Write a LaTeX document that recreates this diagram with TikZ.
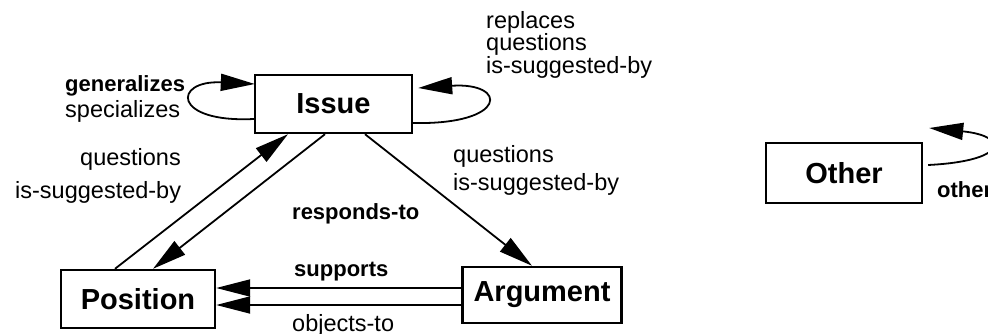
\documentclass[tikz,border=0pt]{standalone}
\usepackage{fontspec}
\setmainfont{Liberation Sans}
\usetikzlibrary{arrows.meta}

\begin{document}
\begin{tikzpicture}[x=1pt, y=-1pt,
    box/.style={draw, line width=2.4pt, minimum width=155pt, minimum height=58pt, inner sep=0pt, font=\fontsize{29}{29}\selectfont\bfseries},
    lbl/.style={anchor=base west, inner sep=0pt, font=\fontsize{23.5}{23.5}\selectfont},
    blbl/.style={anchor=base west, inner sep=0pt, font=\fontsize{22}{22}\selectfont\bfseries},
    rel/.style={line width=1.8pt, -{Triangle[length=34pt, width=17pt]}}]
    \useasboundingbox (0, 0) rectangle (988, 334);

    \node [box, minimum width=157pt] (issue) at (333.5, 104) {Issue};
    \node [box, minimum width=154pt] (position) at (138, 299) {Position};
    \node [box, minimum width=159pt, minimum height=56pt] (argument) at (542, 295) {Argument};
    \node [box, minimum width=156pt, minimum height=60pt] (other) at (844, 173) {Other};

    \draw [rel] ([yshift=-15pt]issue.west) .. controls +(-82, 4) and +(-82, -4) .. ([xshift=1pt, yshift=20pt]issue.west);
    \draw [rel] ([yshift=-19pt]issue.east) .. controls +(95, 2) and +(90, -6) .. ([xshift=5pt, yshift=16pt]issue.east);
    \draw [rel] ([xshift=5pt, yshift=8pt]other.east) .. controls +(80, -4) and +(80, 8) .. ([xshift=6pt, yshift=45pt]other.east);

    \draw [rel] ([xshift=-23pt]position.north) -- ([xshift=-45.5pt]issue.south);
    \draw [rel] ([xshift=-8.5pt]issue.south) -- ([xshift=15pt]position.north);
    \draw [rel] ([xshift=31.5pt]issue.south) -- ([xshift=-10pt]argument.north);
    \draw [rel] ([yshift=7pt]argument.west) -- ([yshift=7pt]argument.west -| position.east);
    \draw [rel] ([yshift=-10pt]argument.west) -- ([yshift=-10pt]argument.west -| position.east);

    \node [blbl] (gen) at (65, 92) {generalizes};
    \node [lbl] (spec) at (65, 118) {specializes};
    \node [lbl] (repl) at (486, 29) {replaces};
    \node [lbl] (qtop) at (486, 51) {questions};
    \node [lbl] (stop) at (486, 74) {is-suggested-by};
    \node [lbl] (qleft) at (80, 165) {questions};
    \node [lbl] (sleft) at (15, 198) {is-suggested-by};
    \node [lbl] (qright) at (453, 162) {questions};
    \node [lbl] (sright) at (453, 190) {is-suggested-by};
    \node [blbl] (resp) at (292, 219) {responds-to};
    \node [blbl] (supp) at (294, 276) {supports};
    \node [lbl] (obj) at (292, 331) {objects-to};
    \node [blbl] (oth) at (937, 197) {other};

\end{tikzpicture}
\end{document}
